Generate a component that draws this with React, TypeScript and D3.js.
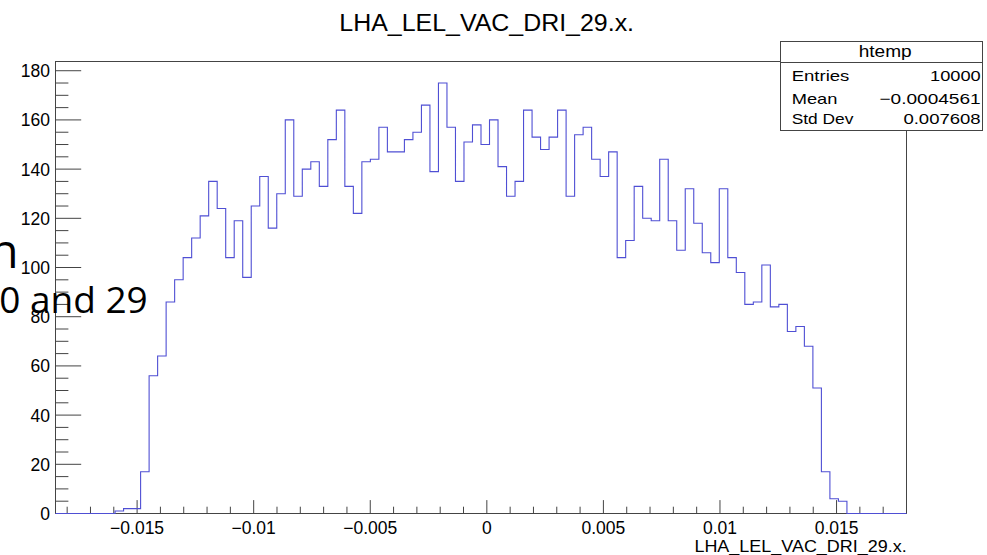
import React from "react";
import * as d3 from "d3";

// Histogram: 100 bins over [-0.0185, 0.018]
const xMin = -0.0185;
const xMax = 0.018;
const counts: number[] = [
  0, 0, 0, 0, 0, 0, 0, 1, 2, 2,
  17, 56, 64, 86, 95, 104, 112, 121, 135, 124,
  104, 119, 96, 125, 137, 116, 130, 160, 129, 140,
  143, 133, 152, 164, 133, 122, 143, 144, 157, 147,
  147, 152, 155, 166, 139, 175, 157, 135, 151, 158,
  150, 160, 141, 129, 135, 164, 153, 148, 153, 164,
  129, 154, 157, 144, 137, 147, 104, 111, 133, 120,
  119, 144, 119, 107, 132, 118, 106, 102, 132, 104,
  98, 85, 86, 101, 84, 85, 74, 76, 68, 51,
  17, 6, 5, 0, 0, 0, 0, 0, 0, 0,
];
const xMajorTicks: number[] = [-0.015, -0.01, -0.005, 0, 0.005, 0.01, 0.015];
const xTickLabels: string[] = ["\u22120.015", "\u22120.01", "\u22120.005", "0", "0.005", "0.01", "0.015"];
const yMajorTicks: number[] = [0, 20, 40, 60, 80, 100, 120, 140, 160, 180];
const statLabels: string[] = ["Entries", "Mean", "Std Dev"];
const statValues: string[] = ["10000", "\u22120.0004561", "0.007608"];
const statLabelWidths: number[] = [57.7, 45.7, 61.7];
const statValueWidths: number[] = [50.7, 101.3, 77.3];
const titleText = "LHA_LEL_VAC_DRI_29.x.";
const histName = "htemp";

const FONT = "'Liberation Sans', Arial, Helvetica, sans-serif";

export default function App() {
  const W = 987, H = 555;
  const left = 55.5, right = 906.5, top = 61.5, bottom = 513.5;
  const maxCount = d3.max(counts) as number;
  const x = d3.scaleLinear().domain([xMin, xMax]).range([left, right]);
  const y = d3.scaleLinear().domain([0, maxCount * 1.05]).range([bottom, top]);
  const nb = counts.length;
  const bw = (xMax - xMin) / nb;

  const pts: [number, number][] = [[x(xMin), y(0)]];
  counts.forEach((c, i) => {
    pts.push([x(xMin + i * bw), y(c)]);
    pts.push([x(xMin + (i + 1) * bw), y(c)]);
  });
  pts.push([x(xMax), y(0)]);
  const path = d3.line()(pts) as string;

  // minor ticks
  const xMinor: number[] = [];
  for (let k = -18; k <= 18; k++) {
    const v = k * 0.001;
    if (v >= xMin - 1e-9 && v <= xMax + 1e-9 && k % 5 !== 0) xMinor.push(v);
  }
  const yMinor: number[] = [];
  for (let v = 0; v <= maxCount * 1.05; v += 5) {
    if (v % 20 !== 0) yMinor.push(v);
  }

  const yMajorLen = 25.7, yMinorLen = 12.9;
  const xMajorLen = 13.4, xMinorLen = 6.8;
  const axisColor = "#444";

  const bx = 780.5, by = 41.5, bw2 = 202, bh = 89;

  return (
    <svg width={W} height={H} style={{ position: "absolute", left: 0, top: 0, background: "#fff", overflow: "hidden" }}
      fontFamily={FONT}>
      <rect x={0} y={0} width={W} height={H} fill="#fff" />
      {/* title */}
      <text x={486.7} y={31} textAnchor="middle" fontSize={23.5} fill="#000"
        textLength={294.7} lengthAdjust="spacingAndGlyphs">{titleText}</text>

      {/* frame */}
      <rect x={left} y={top} width={right - left} height={bottom - top} fill="none" stroke={axisColor} strokeWidth={1} />

      {/* y ticks */}
      {yMajorTicks.map((v) => (
        <g key={"ym" + v}>
          <line x1={left} x2={left + yMajorLen} y1={y(v)} y2={y(v)} stroke={axisColor} strokeWidth={1} />
          <text x={50} y={y(v) + 6.4} textAnchor="end" fontSize={17.5} fill="#000">{v}</text>
        </g>
      ))}
      {yMinor.map((v) => (
        <line key={"yn" + v} x1={left} x2={left + yMinorLen} y1={y(v)} y2={y(v)} stroke={axisColor} strokeWidth={1} />
      ))}

      {/* x ticks */}
      {xMajorTicks.map((v, i) => (
        <g key={"xm" + i}>
          <line x1={x(v)} x2={x(v)} y1={bottom} y2={bottom - xMajorLen} stroke={axisColor} strokeWidth={1} />
          <text x={x(v)} y={534} textAnchor="middle" fontSize={17.5} fill="#000">{xTickLabels[i]}</text>
        </g>
      ))}
      {xMinor.map((v, i) => (
        <line key={"xn" + i} x1={x(v)} x2={x(v)} y1={bottom} y2={bottom - xMinorLen} stroke={axisColor} strokeWidth={1} />
      ))}

      {/* x axis title */}
      <text x={906.7} y={551.5} textAnchor="end" fontSize={17} fill="#000"
        textLength={212.3} lengthAdjust="spacingAndGlyphs">{titleText}</text>

      {/* histogram */}
      <path d={path} fill="none" stroke="#4f4fd4" strokeWidth={1.1} />

      {/* stats box */}
      <rect x={bx} y={by} width={bw2} height={bh} fill="#fff" stroke={axisColor} strokeWidth={1} />
      <line x1={bx} x2={bx + bw2} y1={62.5} y2={62.5} stroke={axisColor} strokeWidth={1} />
      <text x={885.2} y={57.3} textAnchor="middle" fontSize={16} fill="#000"
        textLength={53} lengthAdjust="spacingAndGlyphs">{histName}</text>
      {statLabels.map((s, i) => (
        <g key={"st" + i}>
          <text x={791.7} y={[80.7, 104, 124][i]} fontSize={15} fill="#000"
            textLength={statLabelWidths[i]} lengthAdjust="spacingAndGlyphs">{s}</text>
          <text x={980.7} y={[80.7, 104, 124][i]} textAnchor="end" fontSize={15} fill="#000"
            textLength={statValueWidths[i]} lengthAdjust="spacingAndGlyphs">{statValues[i]}</text>
        </g>
      ))}

      {/* overlaid slide text */}
      <text x={-10.3} y={268} fontSize={47} fill="#000" fontFamily="'Open Sans', sans-serif">n</text>
      <text x={147.7} y={313} textAnchor="end" fontSize={37} fill="#000" fontFamily="'Open Sans', sans-serif">0 and 29</text>
    </svg>
  );
}
